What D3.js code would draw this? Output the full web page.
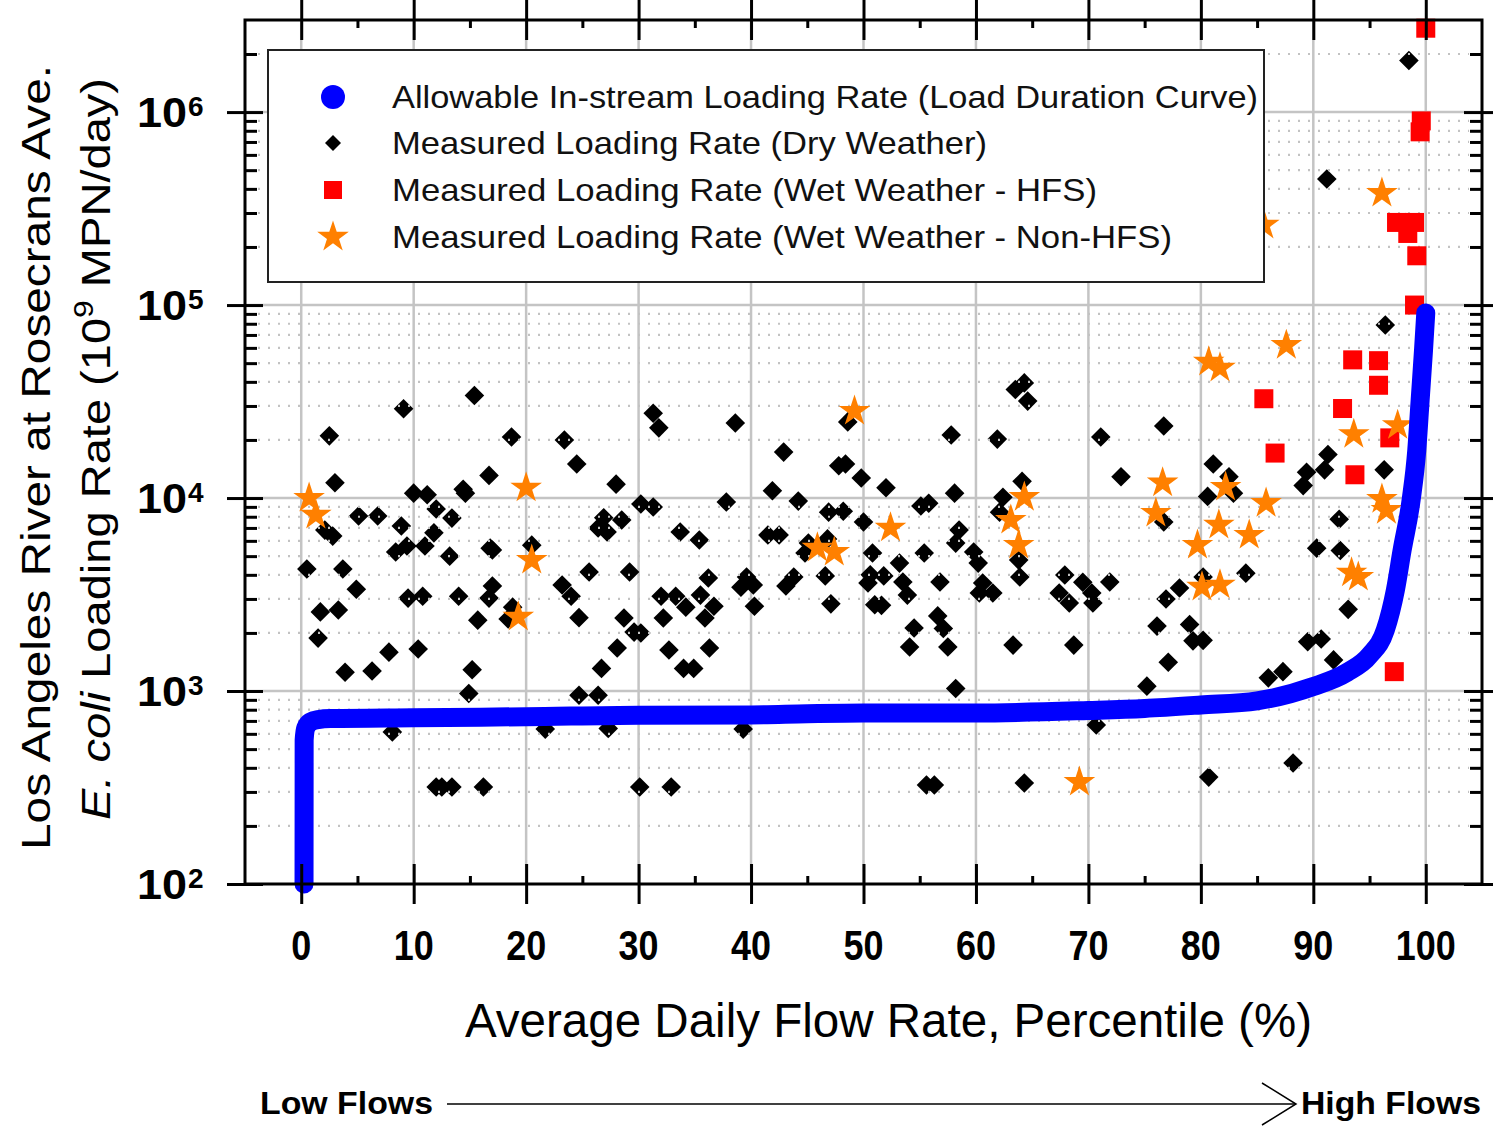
<!DOCTYPE html>
<html><head><meta charset="utf-8">
<script src="https://cdn.jsdelivr.net/npm/d3@7/dist/d3.min.js"></script>
<style>
html,body{margin:0;padding:0;background:#fff;}
svg{display:block;}
text{font-family:"Liberation Sans",Arial,sans-serif;}
</style></head><body>
<svg id="chart" width="1493" height="1126"></svg>
<script>
// ---------------- DATA ----------------
const xTickValues = [0,10,20,30,40,50,60,70,80,90,100];
const xMinorTickValues = [5,15,25,35,45,55,65,75,85,95];
const yTickExponents = [2,3,4,5,6];
const yMinorTickValues = [200,300,400,500,600,700,800,900,2000,3000,4000,5000,6000,7000,8000,9000,
  20000,30000,40000,50000,60000,70000,80000,90000,200000,300000,400000,500000,600000,700000,800000,900000,2000000];

// Allowable in-stream loading rate (load duration curve)
const ldcPercentile = [0.25,0.26,0.4,0.8,1.5,2.6,10,20,30,40,45,50,60,70,75,80,85,90,93,95,96.4,97.3,97.9,98.7,99.2,99.5,99.8,100];
const ldcLoad = [100,557,643,690,711,720,727,736,750,752,763,770,770,793,812,847,890,1055,1250,1530,2070,3340,5380,9800,17700,32200,58500,91000];

// Measured loading rate, dry weather  [percentile, load]
const dryWeather = [
 [15.4,34000],[9.1,29000],[2.5,21000],[18.7,20700],[23.4,20000],[24.5,15000],[3.0,12000],[16.7,13100],
 [10.0,10600],[11.2,10400],[14.4,11100],[14.6,10600],[5.1,8070],[6.8,8070],[12.0,8770],[13.4,7870],
 [8.9,7160],[2.1,6820],[2.8,6350],[11.8,6600],[8.4,5250],[9.4,5640],[11.0,5640],[13.2,5000],
 [17.0,5380],[16.8,5500],[20.5,5700],[0.5,4290],[3.7,4290],[4.9,3370],[25.6,4140],[23.2,3540],
 [24.0,3100],[17.0,3500],[16.7,3030],[9.5,3030],[10.8,3100],[14.0,3100],[18.8,2720],[18.4,2360],
 [1.7,2570],[3.3,2630],[15.7,2330],[24.7,2400],[1.5,1880],[7.8,1590],[10.4,1650],[3.9,1250],
 [6.3,1270],[15.2,1290],[14.9,970],[24.7,950],[26.4,950],[26.7,1310],[8.1,614],[21.7,635],
 [12.0,318],[12.5,318],[13.4,318],[16.2,318],[26.4,7000],[26.9,7900],[27.3,640],
 [31.3,27500],[31.8,23100],[38.6,24500],[57.8,21200],[42.9,17300],[47.8,14700],[48.4,15000],[49.8,12700],
 [52.0,11300],[28.0,11800],[41.9,10900],[58.1,10600],[30.2,9310],[31.3,8980],[37.8,9530],[44.2,9640],
 [55.1,9100],[55.8,9400],[46.9,8450],[48.2,8540],[50.0,7520],[27.2,6670],[28.5,7690],[33.7,6670],
 [35.4,6060],[41.5,6430],[42.5,6430],[45.1,5840],[44.8,5190],[46.8,6140],[50.8,5190],[58.5,6820],
 [58.2,5840],[55.4,5190],[53.2,4600],[29.2,4140],[36.2,3850],[39.6,3900],[39.1,3450],[40.2,3540],
 [43.8,3900],[43.1,3500],[46.6,3950],[50.6,4000],[50.4,3630],[51.8,3950],[53.5,3670],[53.9,3140],
 [56.8,3670],[32.0,3100],[33.3,3100],[35.5,3140],[34.2,2720],[36.7,2750],[40.3,2750],[47.1,2830],
 [51.0,2800],[51.6,2780],[28.7,2390],[32.2,2390],[35.9,2390],[56.6,2450],[29.6,2020],[30.2,2000],
 [54.5,2120],[57.1,2110],[28.1,1670],[32.7,1630],[36.3,1670],[54.1,1690],[57.5,1690],[34.0,1310],
 [34.9,1310],[58.2,1030],[39.3,635],[30.1,318],[32.9,318],[55.6,326],[56.3,326],[48.6,24800],
 [63.5,36500],[64.3,39500],[64.6,31800],[76.7,23600],[61.9,20200],[71.1,20700],[72.9,12900],[81.1,15000],
 [64.1,12200],[62.4,10100],[62.1,8450],[82.5,12900],[82.9,10600],[80.6,10200],[76.7,7520],[59.8,5250],
 [60.2,4600],[60.6,3630],[61.5,3220],[60.3,3220],[63.8,4770],[63.9,3900],[67.9,3990],[69.5,3660],
 [67.4,3220],[68.3,2860],[70.3,3220],[70.4,2860],[71.9,3670],[78.1,3420],[76.9,3000],[63.3,1730],
 [68.7,1730],[76.1,2170],[79.0,2210],[79.3,1820],[80.2,1830],[77.1,1410],[75.2,1060],[70.7,667],
 [64.3,334],[80.7,358],[84.0,4080],[80.2,3900],
 [98.5,1850000],[91.2,450000],[96.4,78800],[91.3,16800],[91.0,14000],[89.4,13600],[89.1,11600],[96.3,14000],
 [92.3,7770],[90.3,5500],[92.4,5350],[93.1,2650],[89.5,1800],[90.7,1860],[91.8,1450],[86.0,1170],
 [87.3,1260],[88.2,424]
];

// Measured loading rate, wet weather - HFS
const wetHFS = [
 [100.0,2720000],[99.6,900000],[99.5,790000],[97.4,268000],[99.0,268000],[98.4,235000],[99.2,180000],
 [99.0,100000],[93.5,52000],[95.8,51500],[95.8,38400],[85.6,32700],[92.6,29100],[96.8,20500],
 [86.6,17100],[93.7,13200],[97.2,1260]
];

// Measured loading rate, wet weather - non-HFS
const wetNonHFS = [
 [0.7,10000],[1.3,8170],[20.0,11300],[20.5,4770],[19.3,2420],[49.2,28200],[52.4,7000],[45.9,5510],
 [47.4,5250],[80.7,50700],[81.7,47200],[76.6,12000],[76.0,8360],[82.2,11400],[64.3,10100],[63.1,7690],
 [63.8,5700],[81.6,7250],[79.7,5700],[84.3,6430],[80.1,3460],[81.7,3550],[69.2,337],[85.8,9400],
 [96.1,380000],[87.6,61900],[93.6,21400],[97.5,23800],[96.1,9860],[96.5,8650],[93.4,4100],[94.0,3890],
 [85.6,260000]
];

const legendLabels = [
 "Allowable In-stream Loading Rate (Load Duration Curve)",
 "Measured Loading Rate (Dry Weather)",
 "Measured Loading Rate (Wet Weather - HFS)",
 "Measured Loading Rate (Wet Weather - Non-HFS)"
];

// ---------------- CHART ----------------
const svg = d3.select("#chart");
const L=245, R=1482, T=20, B=884;
const x = d3.scaleLinear().domain([-5,105]).range([L,R]);
const y = d3.scaleLog().domain([100,3e6]).range([B,T]);

const BLUE="#0000ff", RED="#ff0000", ORANGE="#ff8000";

// grid
const grid = svg.append("g");
grid.selectAll(".vg").data(xTickValues).join("line")
  .attr("x1",d=>x(d)).attr("x2",d=>x(d)).attr("y1",T).attr("y2",B)
  .attr("stroke","#c4c4c4").attr("stroke-width",2.5);
grid.selectAll(".hg").data(yTickExponents.slice(1).map(e=>Math.pow(10,e))).join("line")
  .attr("x1",L).attr("x2",R).attr("y1",d=>y(d)).attr("y2",d=>y(d))
  .attr("stroke","#c4c4c4").attr("stroke-width",2.5);

// dry weather diamonds
const diamond = "M0,-9.8L9.8,0L0,9.8L-9.8,0Z";
const diamondSmall = "M0,-8L8,0L0,8L-8,0Z";
svg.append("g").selectAll("path").data(dryWeather).join("path")
  .attr("d",diamond).attr("transform",d=>`translate(${x(d[0])},${y(d[1])})`)
  .attr("fill","#000");

// dotted minor grid
svg.append("g").selectAll("line").data(yMinorTickValues).join("line")
  .attr("x1",L+13).attr("x2",R-13).attr("y1",d=>y(d)).attr("y2",d=>y(d))
  .attr("stroke","#c2c2c2").attr("stroke-width",2.2).attr("stroke-dasharray","2 8");

// HFS squares
svg.append("g").selectAll("rect").data(wetHFS).join("rect")
  .attr("x",d=>x(d[0])-9.5).attr("y",d=>y(d[1])-9.5).attr("width",19).attr("height",19)
  .attr("fill",RED);

// non-HFS stars
const star = d3.symbol(d3.symbolStar, 310);
svg.append("g").selectAll("path").data(wetNonHFS).join("path")
  .attr("d",star).attr("transform",d=>`translate(${x(d[0])},${y(d[1])})`)
  .attr("fill",ORANGE);

// LDC curve
const ldc = ldcPercentile.map((p,i)=>[p, ldcLoad[i]]);
svg.append("path").datum(ldc)
  .attr("d", d3.line().x(d=>x(d[0])).y(d=>y(d[1])).curve(d3.curveMonotoneX))
  .attr("fill","none").attr("stroke",BLUE).attr("stroke-width",19)
  .attr("stroke-linecap","round").attr("stroke-linejoin","round");

// axes ticks
function styleAxis(g){ g.select(".domain").remove(); g.selectAll(".tick line").attr("stroke","#000").attr("stroke-width",3); }
svg.append("g").attr("transform",`translate(0,${B})`).call(d3.axisBottom(x).tickValues(xTickValues).tickSize(20).tickFormat("")).call(styleAxis);
svg.append("g").attr("transform",`translate(0,${B})`).call(d3.axisTop(x).tickValues(xTickValues).tickSize(20).tickFormat("")).call(styleAxis);
svg.append("g").attr("transform",`translate(0,${B})`).call(d3.axisTop(x).tickValues(xMinorTickValues).tickSize(8).tickFormat("")).call(styleAxis);
svg.append("g").attr("transform",`translate(0,${T})`).call(d3.axisTop(x).tickValues(xTickValues).tickSize(20).tickFormat("")).call(styleAxis);
svg.append("g").attr("transform",`translate(0,${T})`).call(d3.axisBottom(x).tickValues(xTickValues).tickSize(20).tickFormat("")).call(styleAxis);
svg.append("g").attr("transform",`translate(0,${T})`).call(d3.axisBottom(x).tickValues(xMinorTickValues).tickSize(8).tickFormat("")).call(styleAxis);

const yMajors = yTickExponents.map(e=>Math.pow(10,e));
svg.append("g").attr("transform",`translate(${L},0)`).call(d3.axisLeft(y).tickValues(yMajors).tickSize(18).tickFormat("")).call(styleAxis);
svg.append("g").attr("transform",`translate(${L},0)`).call(d3.axisRight(y).tickValues(yMajors).tickSize(18).tickFormat("")).call(styleAxis);
svg.append("g").attr("transform",`translate(${L},0)`).call(d3.axisRight(y).tickValues(yMinorTickValues).tickSize(12).tickFormat("")).call(styleAxis);
svg.append("g").attr("transform",`translate(${R},0)`).call(d3.axisRight(y).tickValues(yMajors).tickSize(18).tickFormat("")).call(styleAxis);
svg.append("g").attr("transform",`translate(${R},0)`).call(d3.axisLeft(y).tickValues(yMajors).tickSize(18).tickFormat("")).call(styleAxis);
svg.append("g").attr("transform",`translate(${R},0)`).call(d3.axisLeft(y).tickValues(yMinorTickValues).tickSize(12).tickFormat("")).call(styleAxis);

// frame
svg.append("rect").attr("x",L).attr("y",T).attr("width",R-L).attr("height",B-T)
  .attr("fill","none").attr("stroke","#000").attr("stroke-width",3);

// x tick labels
svg.append("g").selectAll("text").data(xTickValues).join("text")
  .attr("x",d=>x(d)).attr("y",960).attr("text-anchor","middle")
  .attr("font-size",42).attr("font-weight","bold")
  .attr("textLength",d=>String(d).length*20).attr("lengthAdjust","spacingAndGlyphs")
  .text(d=>d);

// y tick labels
const yl = svg.append("g");
yl.selectAll(".b").data(yTickExponents).join("text")
  .attr("x",187).attr("y",d=>y(Math.pow(10,d))+15).attr("text-anchor","end")
  .attr("font-size",42).attr("font-weight","bold")
  .attr("textLength",50).attr("lengthAdjust","spacingAndGlyphs").text("10");
yl.selectAll(".e").data(yTickExponents).join("text")
  .attr("x",188).attr("y",d=>y(Math.pow(10,d))+4)
  .attr("font-size",28).attr("font-weight","bold").text(d=>d);

// axis titles
svg.append("text").attr("x",465).attr("y",1037).attr("font-size",48)
  .attr("textLength",847).attr("lengthAdjust","spacingAndGlyphs")
  .text("Average Daily Flow Rate, Percentile (%)");

svg.append("text").attr("transform","translate(50,850) rotate(-90)")
  .attr("font-size",40).attr("textLength",785).attr("lengthAdjust","spacingAndGlyphs")
  .text("Los Angeles River at Rosecrans Ave.");
const yt2 = svg.append("text").attr("transform","translate(110,820) rotate(-90)")
  .attr("font-size",40);
yt2.append("tspan").attr("font-style","italic").text("E. coli");
yt2.append("tspan").text(" Loading Rate (10");
yt2.append("tspan").attr("font-size",27).attr("dy",-17).text("9");
yt2.append("tspan").attr("dy",17).text(" MPN/day)");
yt2.attr("textLength",742).attr("lengthAdjust","spacingAndGlyphs");

// legend
const lg = svg.append("g");
lg.append("rect").attr("x",268).attr("y",50).attr("width",996).attr("height",232)
  .attr("fill","#fff").attr("stroke","#222").attr("stroke-width",2);
const rowY = [97,143,190,237];
const rowW = [866,595,705,780];
lg.append("circle").attr("cx",333).attr("cy",rowY[0]).attr("r",12).attr("fill",BLUE);
lg.append("path").attr("d",diamondSmall).attr("transform",`translate(333,${rowY[1]})`).attr("fill","#000");
lg.append("rect").attr("x",324).attr("y",rowY[2]-9).attr("width",18).attr("height",18).attr("fill",RED);
lg.append("path").attr("d",star).attr("transform",`translate(333,${rowY[3]})`).attr("fill",ORANGE);
lg.selectAll("text").data(legendLabels).join("text")
  .attr("x",392).attr("y",(d,i)=>rowY[i]+11).attr("font-size",32).attr("fill","#111")
  .attr("textLength",(d,i)=>rowW[i]).attr("lengthAdjust","spacingAndGlyphs")
  .text(d=>d);

// flow direction annotation
svg.append("text").attr("x",260).attr("y",1114).attr("font-size",32).attr("font-weight","bold")
  .attr("textLength",173).attr("lengthAdjust","spacingAndGlyphs").text("Low Flows");
svg.append("line").attr("x1",447).attr("x2",1296).attr("y1",1104).attr("y2",1104)
  .attr("stroke","#000").attr("stroke-width",1.5);
svg.append("polyline").attr("points","1262,1083 1296,1104 1262,1125")
  .attr("fill","none").attr("stroke","#000").attr("stroke-width",1.5);
svg.append("text").attr("x",1301).attr("y",1114).attr("font-size",32).attr("font-weight","bold")
  .attr("textLength",180).attr("lengthAdjust","spacingAndGlyphs").text("High Flows");
</script>
</body></html>
